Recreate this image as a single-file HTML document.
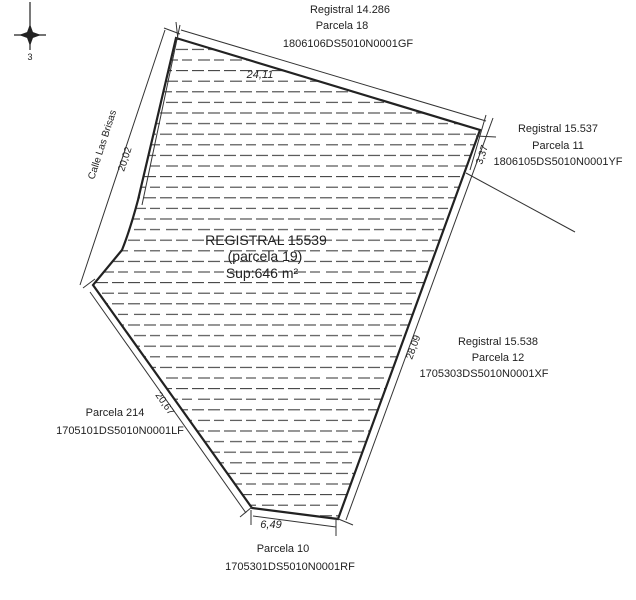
<!DOCTYPE html><html><head><style>body{margin:0;background:#fff}svg{display:block}text{font-family:"Liberation Sans",sans-serif;fill:#222}</style></head><body>
<svg width="636" height="600" viewBox="0 0 636 600">
<defs>
<pattern id="h" width="32" height="21.2" patternUnits="userSpaceOnUse" y="2"><line x1="0" y1="5" x2="12" y2="5" stroke="#444" stroke-width="1.1"/><line x1="16" y1="5" x2="28" y2="5" stroke="#444" stroke-width="1.1"/><line x1="6" y1="15.6" x2="18" y2="15.6" stroke="#444" stroke-width="1.1"/><line x1="22" y1="15.6" x2="32" y2="15.6" stroke="#444" stroke-width="1.1"/></pattern>
<clipPath id="c"><path d="M176,38 L480,130 L338,519 L252,508 L93,285 Q112,262 122,250 Q130,230 138,200 Z"/></clipPath>
</defs>
<rect x="80" y="30" width="420" height="500" fill="url(#h)" clip-path="url(#c)"/>
<path d="M176,38 L480,130 L338,519 L252,508 L93,285 Q112,262 122,250 Q130,230 138,200 Z" fill="none" stroke="#222" stroke-width="2.2"/>
<g stroke="#333" stroke-width="1" fill="none">
<line x1="181" y1="30" x2="486" y2="121"/>
<line x1="176" y1="22" x2="178" y2="40"/>
<line x1="164" y1="28" x2="180" y2="34"/>
<line x1="165" y1="30" x2="80" y2="285"/>
<line x1="180" y1="25" x2="142" y2="205"/>
<line x1="486" y1="115" x2="470" y2="170"/>
<line x1="493" y1="118" x2="346" y2="520"/>
<line x1="476" y1="136" x2="496" y2="137"/>
<line x1="466" y1="173" x2="575" y2="232"/>
<line x1="90" y1="292" x2="246" y2="513"/>
<line x1="83" y1="288" x2="95" y2="279"/>
<line x1="240" y1="517" x2="252" y2="507"/>
<line x1="253" y1="516" x2="336" y2="527"/>
<line x1="251" y1="510" x2="251" y2="525"/>
<line x1="336" y1="520" x2="336" y2="536"/>
<line x1="336" y1="518" x2="353" y2="525"/>
</g>
<g stroke="#222" stroke-width="1.2"><line x1="30" y1="2" x2="30" y2="50"/><line x1="14" y1="35" x2="46" y2="35"/></g>
<polygon points="30,24 34,35 30,46 26,35" fill="#222"/><polygon points="19,35 30,31 41,35 30,39" fill="#222"/>
<text x="30" y="60" font-size="9" text-anchor="middle">3</text>
<g font-size="11" text-anchor="middle">
<text x="350" y="13">Registral 14.286</text><text x="342" y="29">Parcela 18</text><text x="348" y="47">1806106DS5010N0001GF</text>
<text x="558" y="132">Registral 15.537</text><text x="558" y="149">Parcela 11</text><text x="558" y="165">1806105DS5010N0001YF</text>
<text x="498" y="345">Registral 15.538</text><text x="498" y="361">Parcela 12</text><text x="484" y="377">1705303DS5010N0001XF</text>
<text x="115" y="416">Parcela 214</text><text x="120" y="434">1705101DS5010N0001LF</text>
<text x="283" y="552">Parcela 10</text><text x="290" y="570">1705301DS5010N0001RF</text>
<text x="260" y="78" font-style="italic">24,11</text>
<text x="271" y="528" font-style="italic">6,49</text>
</g>
<g font-size="14" text-anchor="middle"><text x="266" y="245">REGISTRAL 15539</text><text x="265" y="261">(parcela 19)</text><text x="262" y="278">Sup:646 m²</text></g>
<text font-size="10" transform="translate(94,180) rotate(-72)">Calle Las Brisas</text>
<text font-size="10" transform="translate(124,172) rotate(-72)">20,02</text>
<text font-size="10" transform="translate(155,395) rotate(55)">20,67</text>
<text font-size="10" transform="translate(412,360) rotate(-70)">28,09</text>
<text font-size="10" transform="translate(482,165) rotate(-72)">3,37</text>
</svg></body></html>
